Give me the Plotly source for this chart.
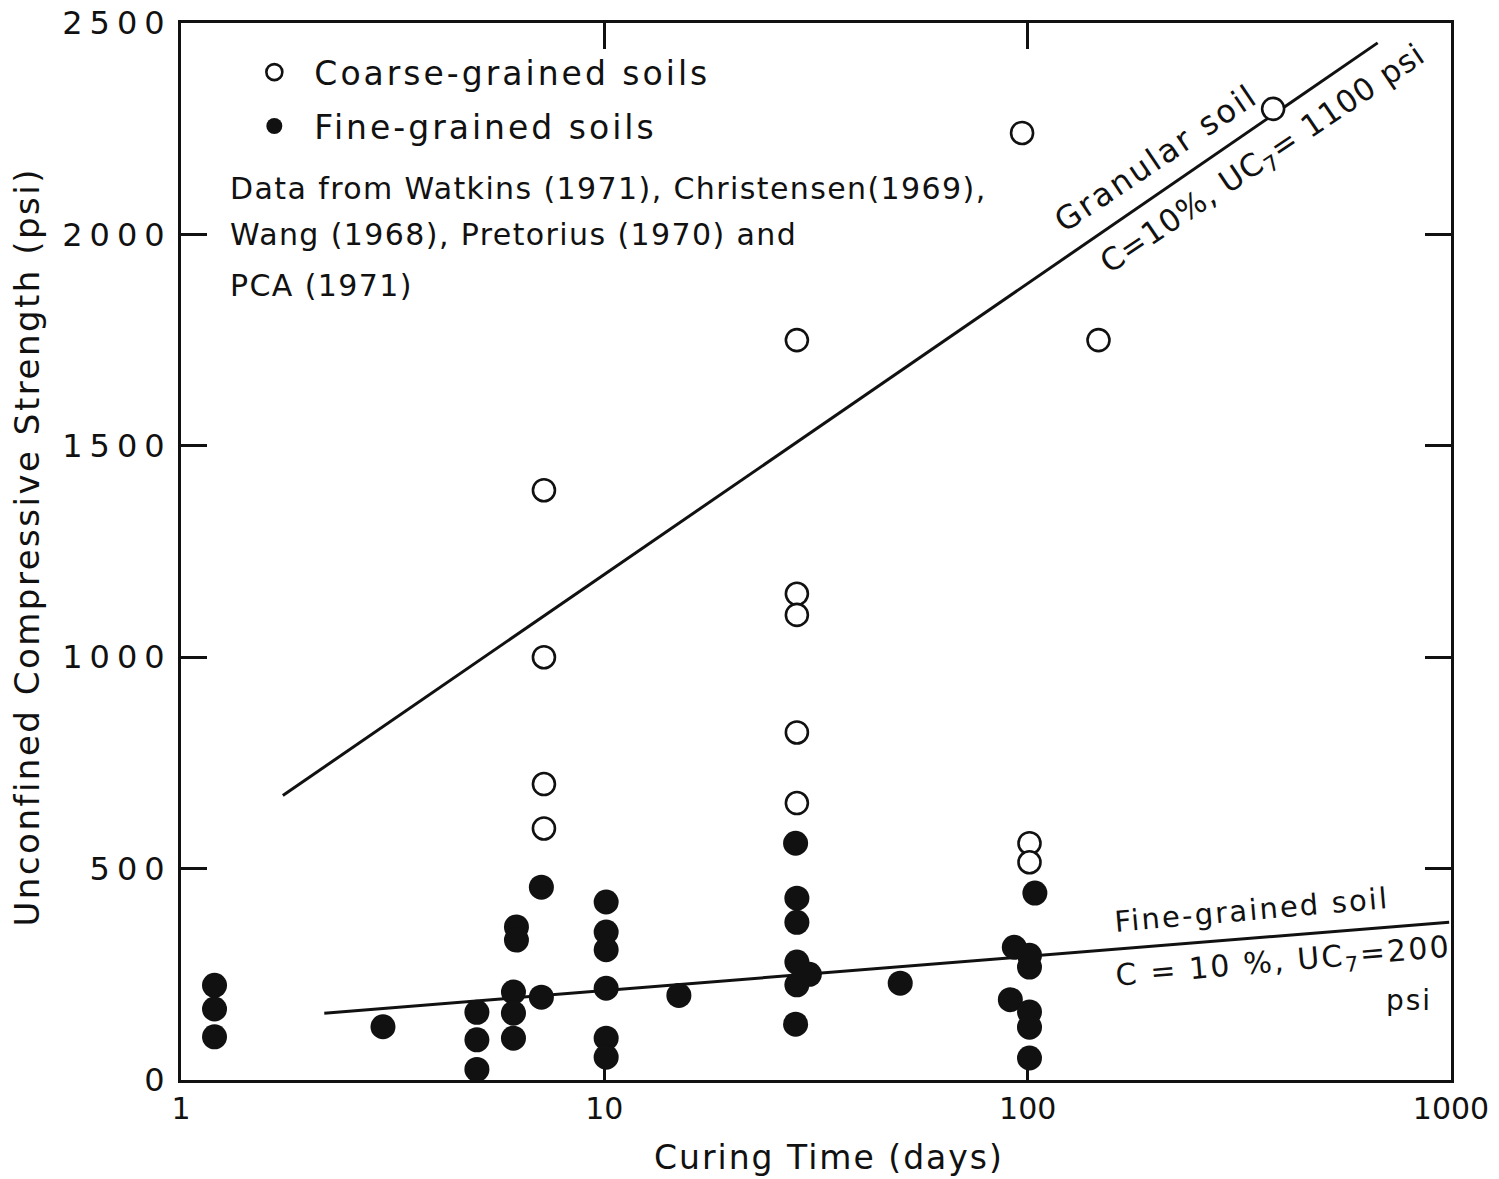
import plotly.graph_objects as go

# Curing time (days) and unconfined compressive strength (psi)
coarse_days = [7.2, 7.2, 7.2, 7.2, 28.5, 28.5, 28.5, 28.5, 28.5, 97, 101, 101, 147, 380]
coarse_psi = [1395, 1000, 700, 595, 1750, 1150, 1100, 822, 655, 2240, 560, 515, 1750, 2297]

fine_days = [1.2, 1.2, 1.2, 3, 5, 5, 5, 6.2, 6.2, 6.1, 6.1, 6.1, 7.1, 7.1,
             10.1, 10.1, 10.1, 10.1, 10.1, 10.1, 15,
             28.3, 28.5, 28.5, 28.5, 30.5, 28.5, 28.3, 50,
             93, 91, 104, 101, 101, 101, 101, 101]
fine_psi = [224, 168, 102, 126, 160, 95, 25, 362, 331, 208, 158, 99, 456, 196,
            421, 350, 308, 217, 99, 54, 200,
            560, 430, 373, 279, 250, 225, 132, 229,
            314, 190, 442, 295, 267, 161, 125, 52]

# Reference trend lines (C = 10 %)
granular_days = [1.74, 671]
granular_psi = [673, 2453]
finegrained_days = [2.18, 990]
finegrained_psi = [158, 373]

x_ticks = [1, 10, 100, 1000]
x_ticklabels = ["1", "10", "100", "1000"]
y_ticks = [0, 500, 1000, 1500, 2000, 2500]
y_ticklabels = ["0", "500", "1000", "1500", "2000", "2500"]

FONT = "DejaVu Sans"
INK = "#111111"


def spaced(text, px):
    """Wrap text in a span with extra letter spacing (lettering-guide look)."""
    return f'<span style="letter-spacing:{px}px">{text}</span>'


fig = go.Figure()

fig.add_trace(go.Scatter(
    x=granular_days, y=granular_psi, mode="lines",
    line=dict(color=INK, width=3), showlegend=False, hoverinfo="skip"))
fig.add_trace(go.Scatter(
    x=finegrained_days, y=finegrained_psi, mode="lines",
    line=dict(color=INK, width=3), showlegend=False, hoverinfo="skip"))

fig.add_trace(go.Scatter(
    x=coarse_days, y=coarse_psi, mode="markers",
    name=spaced("Coarse-grained soils", 3),
    marker=dict(symbol="circle", size=22, color="white",
                line=dict(color=INK, width=2.6)),
    legendgroup="a"))
fig.add_trace(go.Scatter(
    x=fine_days, y=fine_psi, mode="markers",
    name=spaced("Fine-grained soils", 3),
    marker=dict(symbol="circle", size=25, color=INK,
                line=dict(color=INK, width=0)),
    legendgroup="b"))

annotations = []


def note(text, x, y, size=30, angle=0, anchor="center", ls=0):
    annotations.append(dict(
        text=spaced(text, ls) if ls else text, x=x, y=y,
        xref="paper", yref="paper", showarrow=False,
        textangle=angle, xanchor=anchor, yanchor="middle",
        font=dict(family=FONT, size=size, color=INK)))


note("Data from Watkins (1971), Christensen(1969),", 0.037, 0.843, 30, anchor="left", ls=1.4)
note("Wang (1968), Pretorius (1970) and", 0.037, 0.800, 30, anchor="left", ls=1.4)
note("PCA (1971)", 0.037, 0.752, 30, anchor="left", ls=1.4)

note("Granular soil", 0.768, 0.872, 32, angle=-34, ls=2.5)
note("C=10%, UC<sub>7</sub>= 1100 psi", 0.852, 0.870, 31, angle=-34, ls=1)
note("Fine-grained soil", 0.843, 0.161, 29, angle=-5, ls=2.2)
note("C = 10 %, UC<sub>7</sub>=200", 0.868, 0.1115, 30, angle=-5, ls=2.2)
note("psi", 0.967, 0.0756, 28, ls=2)

# Axis titles
note("Curing Time (days)", 0.510, -0.0737, 33, ls=2)
note("Unconfined Compressive Strength (psi)", -0.121, 0.505, 34, angle=-90, ls=2.5)

fig.update_layout(
    width=1499, height=1179,
    margin=dict(l=181, r=48, t=23, b=99, autoexpand=False),
    paper_bgcolor="white", plot_bgcolor="white",
    font=dict(family=FONT, size=30, color=INK),
    annotations=annotations,
    legend=dict(
        x=0.042, y=0.980, xanchor="left", yanchor="top",
        bgcolor="rgba(0,0,0,0)", font=dict(family=FONT, size=33, color=INK),
        itemsizing="trace", itemwidth=70, tracegroupgap=8,
        traceorder="grouped"),
)

fig.update_xaxes(
    type="log", range=[0, 3], automargin=False,
    tickvals=x_ticks, ticktext=x_ticklabels,
    ticks="inside", ticklen=26, tickwidth=2.5, tickcolor=INK,
    showline=True, linewidth=3, linecolor=INK, mirror="ticks",
    showgrid=False, zeroline=False,
    tickfont=dict(family=FONT, size=30, color=INK),
)
fig.update_yaxes(
    range=[0, 2500], automargin=False,
    tickvals=y_ticks, ticktext=[spaced(t, 7) for t in y_ticklabels],
    ticks="inside", ticklen=26, tickwidth=2.5, tickcolor=INK,
    showline=True, linewidth=3, linecolor=INK, mirror="ticks",
    showgrid=False, zeroline=False,
    tickfont=dict(family=FONT, size=32, color=INK),
)

fig.write_html("out.html")
